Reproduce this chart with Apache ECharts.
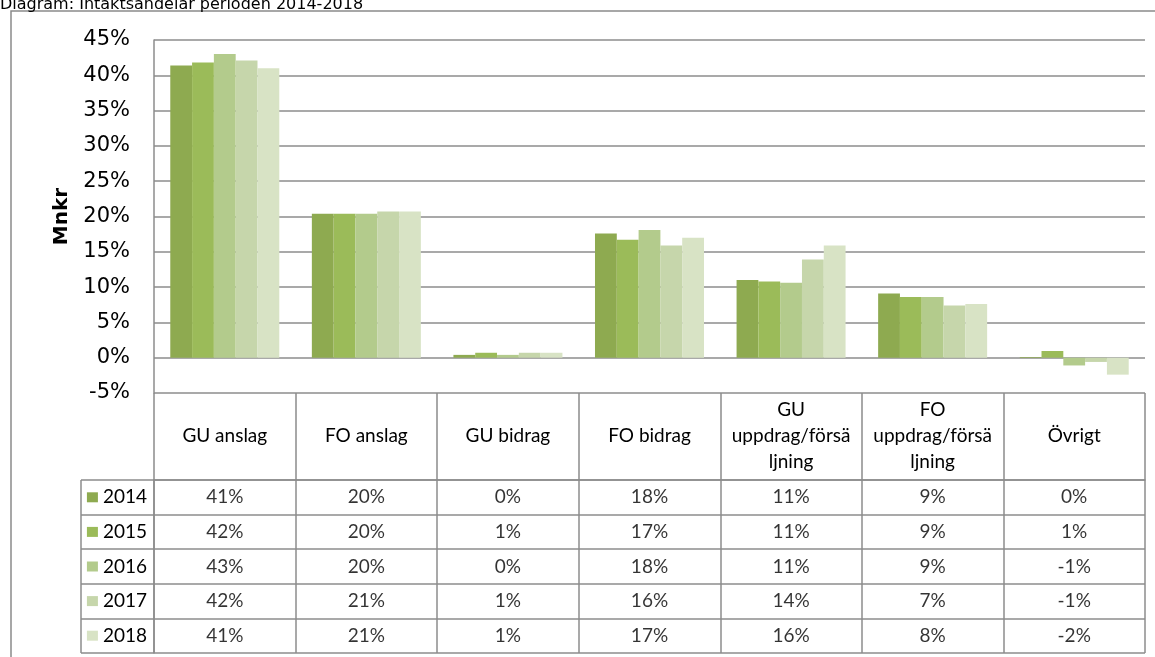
<!DOCTYPE html>
<html>
<head>
<meta charset="utf-8">
<script src="https://cdn.jsdelivr.net/npm/echarts@6/dist/echarts.min.js"></script>
<style>
	html, body { margin: 0; padding: 0; background: #fff; }
	#chart { width: 1155px; height: 657px; }
</style>
</head>
<body>
<div id="chart"></div>
<script>
	// kategorier och andelar (procent) per år
	var categories = ['GU anslag', 'FO anslag', 'GU bidrag', 'FO bidrag', 'GU\nuppdrag/försä\nljning', 'FO\nuppdrag/försä\nljning', 'Övrigt'];
	var years = ['2014', '2015', '2016', '2017', '2018'];
	var v2014 = [41.4, 20.4, 0.4, 17.6, 11.0, 9.1, 0.1];
	var v2015 = [41.8, 20.4, 0.7, 16.7, 10.8, 8.6, 0.95];
	var v2016 = [43.0, 20.4, 0.4, 18.1, 10.6, 8.6, -1.1];
	var v2017 = [42.1, 20.7, 0.7, 15.9, 13.9, 7.4, -0.6];
	var v2018 = [41.0, 20.7, 0.7, 17.0, 15.9, 7.6, -2.4];
	var yTicks = [-5, 0, 5, 10, 15, 20, 25, 30, 35, 40, 45];

	var values = [v2014, v2015, v2016, v2017, v2018];
	var colors = ['#8eaa50', '#9bbb59', '#b3cb8c', '#c6d6ab', '#d8e3c5'];
	var lineCol = '#8c8c8c';
	var tableFont = 'Lato';

	var series = [];
	// staplar
	years.forEach(function(y, i) {
		series.push({
			name: y,
			type: 'bar',
			xAxisIndex: 0,
			yAxisIndex: 0,
			barGap: '0%',
			barCategoryGap: '23%',
			itemStyle: { color: colors[i] },
			data: values[i]
		});
	});
	// tabellens celler
	years.forEach(function(y, i) {
		series.push({
			name: y + ' tabell',
			type: 'scatter',
			xAxisIndex: 1,
			yAxisIndex: 1,
			symbolSize: 0,
			silent: true,
			label: {
				show: true,
				position: 'inside',
				color: '#000',
				fontFamily: tableFont,
				fontSize: 19,
				formatter: function(p) { return p.value[2].toFixed(0) + '%'; }
			},
			data: values[i].map(function(v, j) { return [j, i, v]; })
		});
	});

	var rich = {};
	colors.forEach(function(c, i) {
		rich['sq' + i] = { width: 11, height: 10, backgroundColor: c };
	});
	rich.t = { fontFamily: tableFont, fontSize: 19, color: '#000', padding: [0, 0, 0, 5] };

	var option = {
		animation: false,
		grid: [
			{ left: 154, right: 10, top: 40, bottom: 264 },
			{ left: 154, right: 10, top: 480, bottom: 4 }
		],
		graphic: [
			{
				type: 'rect',
				shape: { x: 11, y: 11, width: 1200, height: 700 },
				style: { fill: 'none', stroke: '#8a8a8a', lineWidth: 1.5 },
				silent: true
			},
			{
				type: 'text',
				left: 0,
				top: -3,
				style: { text: 'Diagram: Intäktsandelar perioden 2014-2018', font: '16px "DejaVu Sans"', fill: '#000' },
				silent: true
			},
			{
				type: 'line',
				shape: { x1: 81, y1: 480, x2: 81, y2: 653 },
				style: { stroke: lineCol, lineWidth: 1.5 },
				silent: true
			}
		],
		xAxis: [
			{
				type: 'category',
				gridIndex: 0,
				data: categories,
				axisLine: { show: false },
				axisTick: { show: false },
				axisLabel: { show: false }
			},
			{
				type: 'category',
				gridIndex: 1,
				position: 'top',
				data: categories,
				axisLine: { show: true, lineStyle: { color: lineCol, width: 1.5 } },
				axisTick: { show: true, length: 87, interval: 0, lineStyle: { color: lineCol, width: 1.5 } },
				axisLabel: {
					interval: 0,
					margin: 44,
					verticalAlign: 'middle',
					lineHeight: 26,
					color: '#000',
					fontFamily: tableFont,
					fontSize: 19
				},
				splitLine: { show: true, interval: 0, lineStyle: { color: lineCol, width: 1.5 } }
			}
		],
		yAxis: [
			{
				type: 'value',
				gridIndex: 0,
				min: -5,
				max: 45,
				interval: 5,
				name: 'Mnkr',
				nameLocation: 'middle',
				nameRotate: 90,
				nameGap: 82,
				nameTextStyle: { fontFamily: 'DejaVu Sans', fontWeight: 'bold', fontSize: 20, color: '#000' },
				axisLine: { show: true, lineStyle: { color: lineCol, width: 1.5 } },
				axisTick: { show: false },
				axisLabel: {
					margin: 24,
					color: '#000',
					fontFamily: 'DejaVu Sans',
					fontSize: 21,
					customValues: yTicks,
					formatter: '{value}%'
				},
				splitLine: { show: true, lineStyle: { color: lineCol, width: 1.5 } }
			},
			{
				type: 'category',
				gridIndex: 1,
				inverse: true,
				data: years,
				axisLine: { show: true, lineStyle: { color: lineCol, width: 1.5 } },
				axisTick: { show: true, length: 73, interval: 0, lineStyle: { color: lineCol, width: 1.5 } },
				axisLabel: {
					interval: 0,
					margin: 7,
					formatter: function(val, idx) { return '{sq' + idx + '|}{t|' + val + '}'; },
					rich: rich
				},
				splitLine: { show: true, interval: 0, lineStyle: { color: lineCol, width: 1.5 } }
			}
		],
		series: series
	};

	var myChart = echarts.init(document.getElementById('chart'));
	myChart.setOption(option);
</script>
</body>
</html>
